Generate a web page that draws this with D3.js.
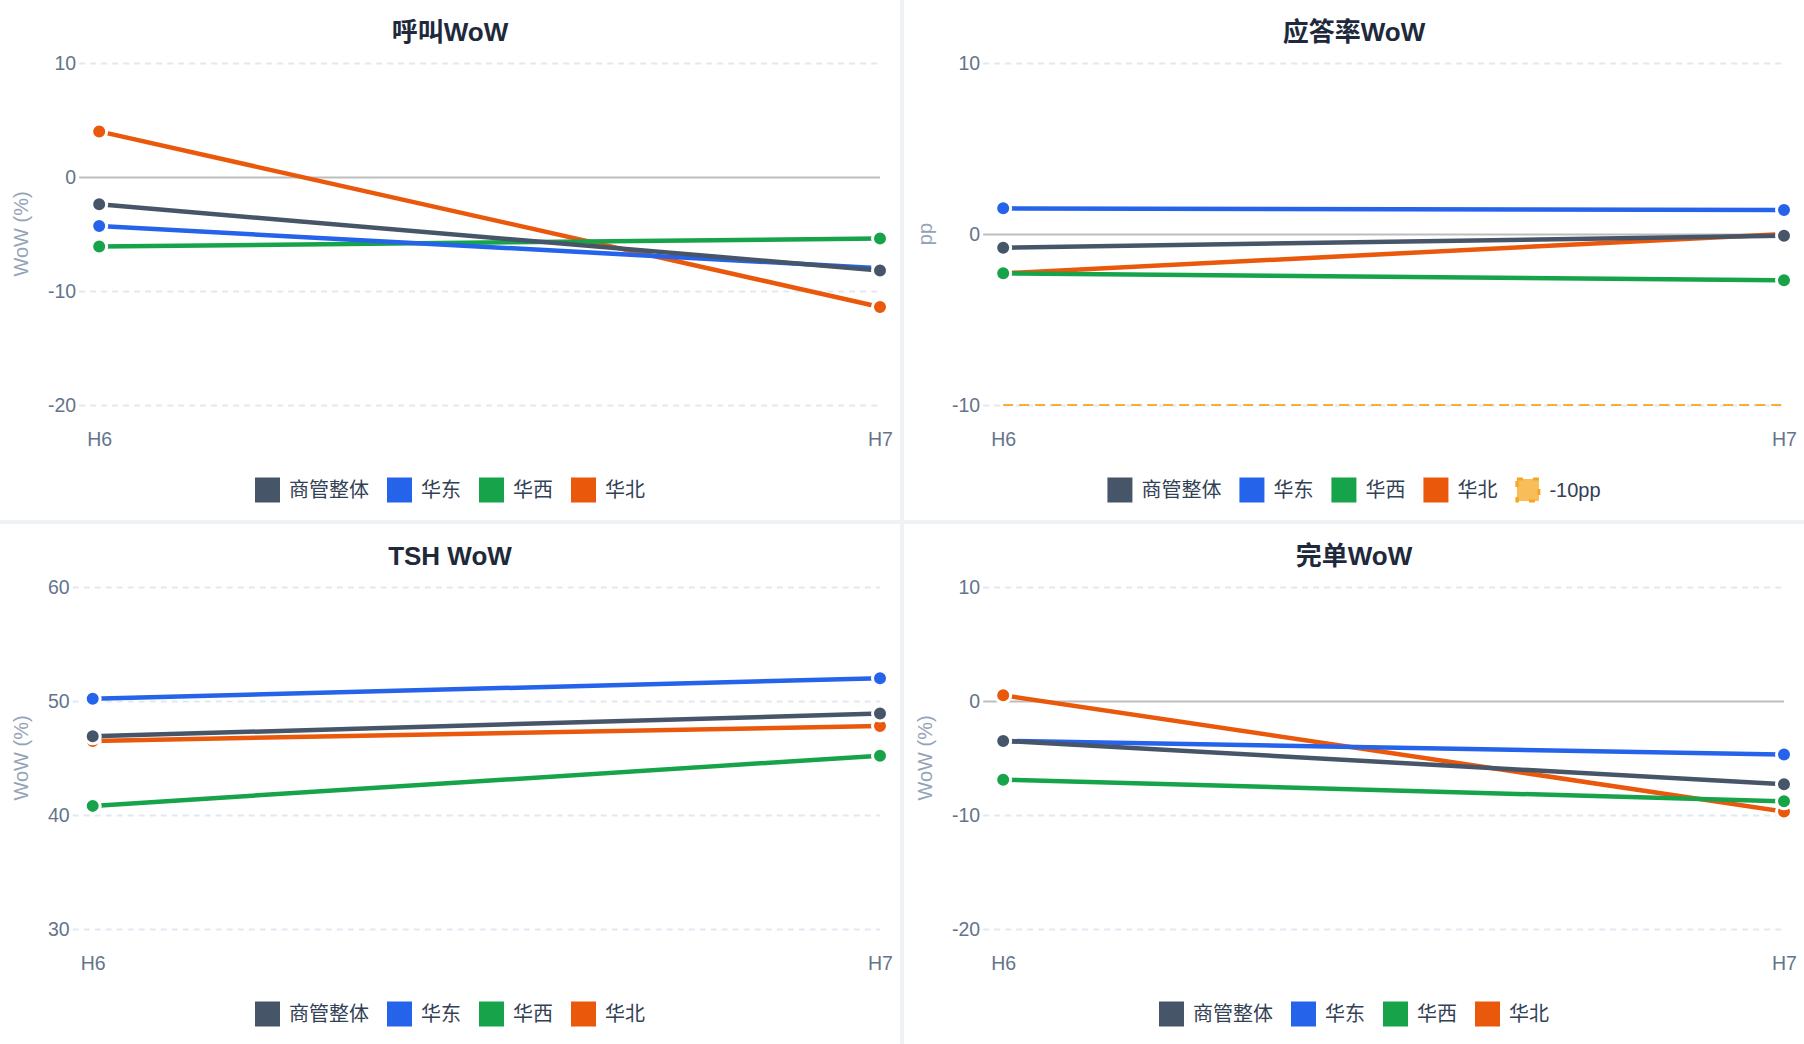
<!DOCTYPE html>
<html>
<head>
<meta charset="utf-8">
<script src="https://cdn.jsdelivr.net/npm/d3@7"></script>
<style>
  html, body { margin: 0; padding: 0; background: #eef2f6; }
  svg { display: block; }
  text { font-family: "Liberation Sans", "Noto Sans CJK SC", sans-serif; }
</style>
</head>
<body>
<svg id="chart" width="1804" height="1044"></svg>
<script>
// 数据
const periods = ["H6", "H7"];
const seriesNames = ["商管整体", "华东", "华西", "华北"];
const seriesColors = ["#475569", "#2563eb", "#16a34a", "#ea580c"];

const callWow = [[-2.4, -8.2], [-4.3, -8.0], [-6.1, -5.4], [4.0, -11.4]];
const answerWow = [[-0.8, -0.1], [1.5, 1.4], [-2.3, -2.7], [-2.3, 0.0]];
const tshWow = [[46.9, 48.9], [50.2, 52.0], [40.8, 45.2], [46.5, 47.8]];
const doneWow = [[-3.5, -7.3], [-3.5, -4.7], [-6.9, -8.8], [0.5, -9.7]];

const callTicks = [-20, -10, 0, 10];
const answerTicks = [-10, 0, 10];
const tshTicks = [30, 40, 50, 60];
const doneTicks = [-20, -10, 0, 10];

const answerThreshold = -10;
const thresholdLabel = "-10pp";
const thresholdColor = "#f6ad3c";

const panels = [
    { title: "呼叫WoW", yLabel: "WoW (%)", data: callWow, ticks: callTicks },
    { title: "应答率WoW", yLabel: "pp", data: answerWow, ticks: answerTicks, threshold: answerThreshold },
    { title: "TSH WoW", yLabel: "WoW (%)", data: tshWow, ticks: tshTicks },
    { title: "完单WoW", yLabel: "WoW (%)", data: doneWow, ticks: doneTicks }
];

const svg = d3.select("#chart");
const panelW = 900, panelH = 520, gap = 4;
const plotTop = 63, plotBottom = 405, plotRight = 880;
const fmt = d => String(d); // 用普通减号

function drawPanel(p, i) {
    const col = i % 2, row = Math.floor(i / 2);
    const g = svg.append("g")
        .attr("transform", `translate(${col * (panelW + gap)},${row * (panelH + gap)})`);

    g.append("rect")
        .attr("width", panelW)
        .attr("height", panelH)
        .attr("fill", "#fff");

    // 测一下刻度文字宽度
    const probe = g.append("text").style("font-size", "19.5px");
    let maxW = 0;
    p.ticks.forEach(t => {
        probe.text(fmt(t));
        maxW = Math.max(maxW, probe.node().getComputedTextLength());
    });
    probe.remove();
    const plotLeft = 47 + maxW + 4;

    const x = d3.scalePoint().domain(periods).range([plotLeft + 20, plotRight]);
    const y = d3.scaleLinear().domain(d3.extent(p.ticks)).range([plotBottom, plotTop]);

    // 网格
    const grid = g.append("g")
        .attr("transform", `translate(${plotLeft},0)`)
        .call(d3.axisLeft(y).tickValues(p.ticks).tickSize(-(plotRight - plotLeft)).tickFormat(""));
    grid.select(".domain").remove();
    grid.selectAll(".tick line")
        .attr("stroke", d => d === 0 ? "#bdbdbd" : "#e2e8f0")
        .attr("stroke-width", 2)
        .attr("stroke-dasharray", d => d === 0 ? null : "6,5");

    // y 轴刻度
    const yAxis = g.append("g")
        .attr("transform", `translate(${plotLeft},0)`)
        .call(d3.axisLeft(y).tickValues(p.ticks).tickFormat(fmt).tickSize(0).tickPadding(3));
    yAxis.select(".domain").remove();
    yAxis.selectAll("text")
        .style("font-size", "19.5px")
        .attr("fill", "#64748b");

    // x 轴
    const xAxis = g.append("g")
        .attr("transform", `translate(0,${plotBottom})`)
        .call(d3.axisBottom(x).tickSize(0).tickPadding(27));
    xAxis.select(".domain").remove();
    xAxis.selectAll("text")
        .style("font-size", "19.5px")
        .attr("fill", "#64748b");

    // y 轴标题
    g.append("text")
        .attr("transform", `translate(21,${(plotTop + plotBottom) / 2}) rotate(-90)`)
        .attr("text-anchor", "middle")
        .attr("dominant-baseline", "central")
        .style("font-size", "20px")
        .attr("fill", "#94a3b8")
        .text(p.yLabel);

    // 标题
    g.append("text")
        .attr("x", panelW / 2)
        .attr("y", 32)
        .attr("text-anchor", "middle")
        .attr("dominant-baseline", "central")
        .style("font-size", "26px")
        .style("font-weight", "bold")
        .attr("fill", "#1e293b")
        .text(p.title);

    // 阈值线
    if (p.threshold !== undefined) {
        g.append("line")
            .attr("x1", plotLeft + 20)
            .attr("x2", plotRight)
            .attr("y1", y(p.threshold))
            .attr("y2", y(p.threshold))
            .attr("stroke", thresholdColor)
            .attr("stroke-width", 2)
            .attr("stroke-dasharray", "10,6");
    }

    // 折线，倒序画，商管整体在最上面
    const line = d3.line().x((d, j) => x(periods[j])).y(d => y(d));
    const order = d3.range(seriesNames.length).reverse();
    order.forEach(k => {
        const s = g.append("g");
        s.append("path")
            .datum(p.data[k])
            .attr("d", line)
            .attr("fill", "none")
            .attr("stroke", seriesColors[k])
            .attr("stroke-width", 4.5);
        s.selectAll("circle")
            .data(p.data[k])
            .enter().append("circle")
            .attr("cx", (d, j) => x(periods[j]))
            .attr("cy", d => y(d))
            .attr("r", 7.5)
            .attr("fill", seriesColors[k])
            .attr("stroke", "#fff")
            .attr("stroke-width", 3);
    });

    // 图例
    const items = seriesNames.map((n, k) => ({ name: n, color: seriesColors[k], dashed: false }));
    if (p.threshold !== undefined) items.push({ name: thresholdLabel, color: thresholdColor, dashed: true });

    const legend = g.append("g");
    let cx = 0;
    items.forEach(it => {
        const item = legend.append("g").attr("transform", `translate(${cx},0)`);
        if (it.dashed) {
            item.append("rect")
                .attr("x", 1.5).attr("y", -11)
                .attr("width", 22).attr("height", 22)
                .attr("fill", "#f8bc58")
                .attr("stroke", "#f5a524")
                .attr("stroke-width", 3)
                .attr("stroke-dasharray", "6,10");
        } else {
            item.append("rect")
                .attr("x", 0).attr("y", -12.5)
                .attr("width", 25).attr("height", 25)
                .attr("fill", it.color);
        }
        const t = item.append("text")
            .attr("x", 34)
            .attr("dominant-baseline", "central")
            .style("font-size", "20px")
            .attr("fill", "#334155")
            .text(it.name);
        cx += 34 + t.node().getComputedTextLength() + 18;
    });
    const legendW = cx - 18;
    legend.attr("transform", `translate(${(panelW - legendW) / 2},490)`);
}

panels.forEach(drawPanel);
</script>
</body>
</html>
